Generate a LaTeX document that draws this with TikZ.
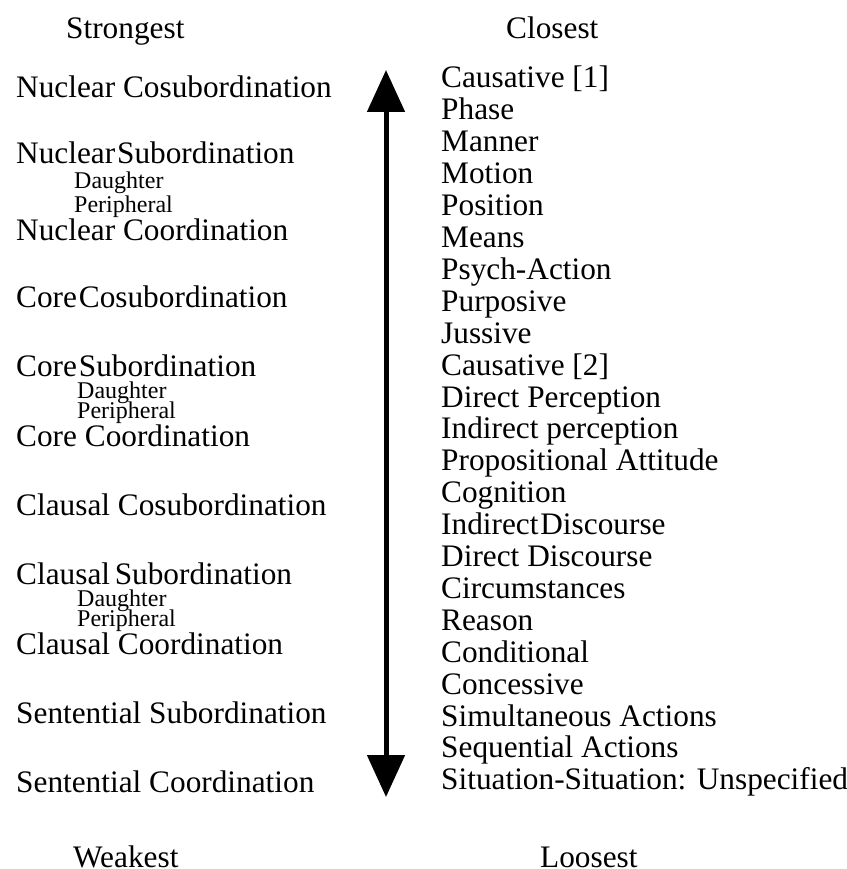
\documentclass[tikz,border=0pt]{standalone}
\usepackage{fontspec}
\setmainfont{Liberation Serif}
\usetikzlibrary{arrows.meta}

\begin{document}
\begin{tikzpicture}[x=1pt,y=-1pt,
  lbl/.style={anchor=base west,inner sep=0pt,font=\fontsize{31.3}{32}\selectfont},
  sub/.style={anchor=base west,inner sep=0pt,font=\fontsize{24}{25}\selectfont},
  scale arrow/.style={line width=5pt,
    {Triangle[length=42pt,width=37pt]}-{Triangle[length=42pt,width=37pt]}}]
\useasboundingbox (0,0) rectangle (846,869);

% column headings
\node[lbl] (strong) at (66,39) {Strongest};
\node[lbl] (close)  at (506,39) {Closest};
\node[lbl] (weak)   at (73,867) {Weakest};
\node[lbl] (loose)  at (540,867) {Loosest};

% juncture-nexus types
\node[lbl] (nc)  at (16,98)  {Nuclear Cosubordination};
\node[lbl] (ns)  at (16,164) {Nuclear\hspace{0.06em}Subordination};
\node[sub] (nsd) at (74,189) {Daughter};
\node[sub] (nsp) at (74,212) {Peripheral};
\node[lbl] (nco) at (16,240) {Nuclear Coordination};

\node[lbl] (cc)  at (16,307) {Core\hspace{0.06em}Cosubordination};
\node[lbl] (cs)  at (16,376) {Core\hspace{0.06em}Subordination};
\node[sub] (csd) at (77,398) {Daughter};
\node[sub] (csp) at (77,418) {Peripheral};
\node[lbl] (cco) at (16,446) {Core Coordination};

\node[lbl] (lc)  at (16,515) {Clausal Cosubordination};
\node[lbl] (ls)  at (16,584) {Clausal\hspace{0.15em}Subordination};
\node[sub] (lsd) at (77,606) {Daughter};
\node[sub] (lsp) at (77,626) {Peripheral};
\node[lbl] (lco) at (16,654) {Clausal Coordination};

\node[lbl] (ss)  at (16,723) {Sentential Subordination};
\node[lbl] (sco) at (16,792) {Sentential Coordination};

% semantic relations
\foreach \t [count=\i from 0] in {{Causative [1]},{Phase},{Manner},{Motion},
  {Position},{Means},{Psych-Action},{Purposive},{Jussive},{Causative [2]},
  {Direct Perception},{Indirect perception},{Propositional Attitude},
  {Cognition},{Indirect\hspace{0.06em}Discourse},{Direct Discourse},
  {Circumstances},{Reason},{Conditional},{Concessive},
  {Simultaneous Actions},{Sequential Actions},
  {Situation-Situation: Unspecified}}
  \node[lbl] (rel\i) at (441,88+31.9*\i) {\t};

% double-headed scale arrow
\coordinate (top) at (386,70);
\coordinate (bot) at (386,797);
\draw[scale arrow] (bot) -- (top);
\end{tikzpicture}
\end{document}
